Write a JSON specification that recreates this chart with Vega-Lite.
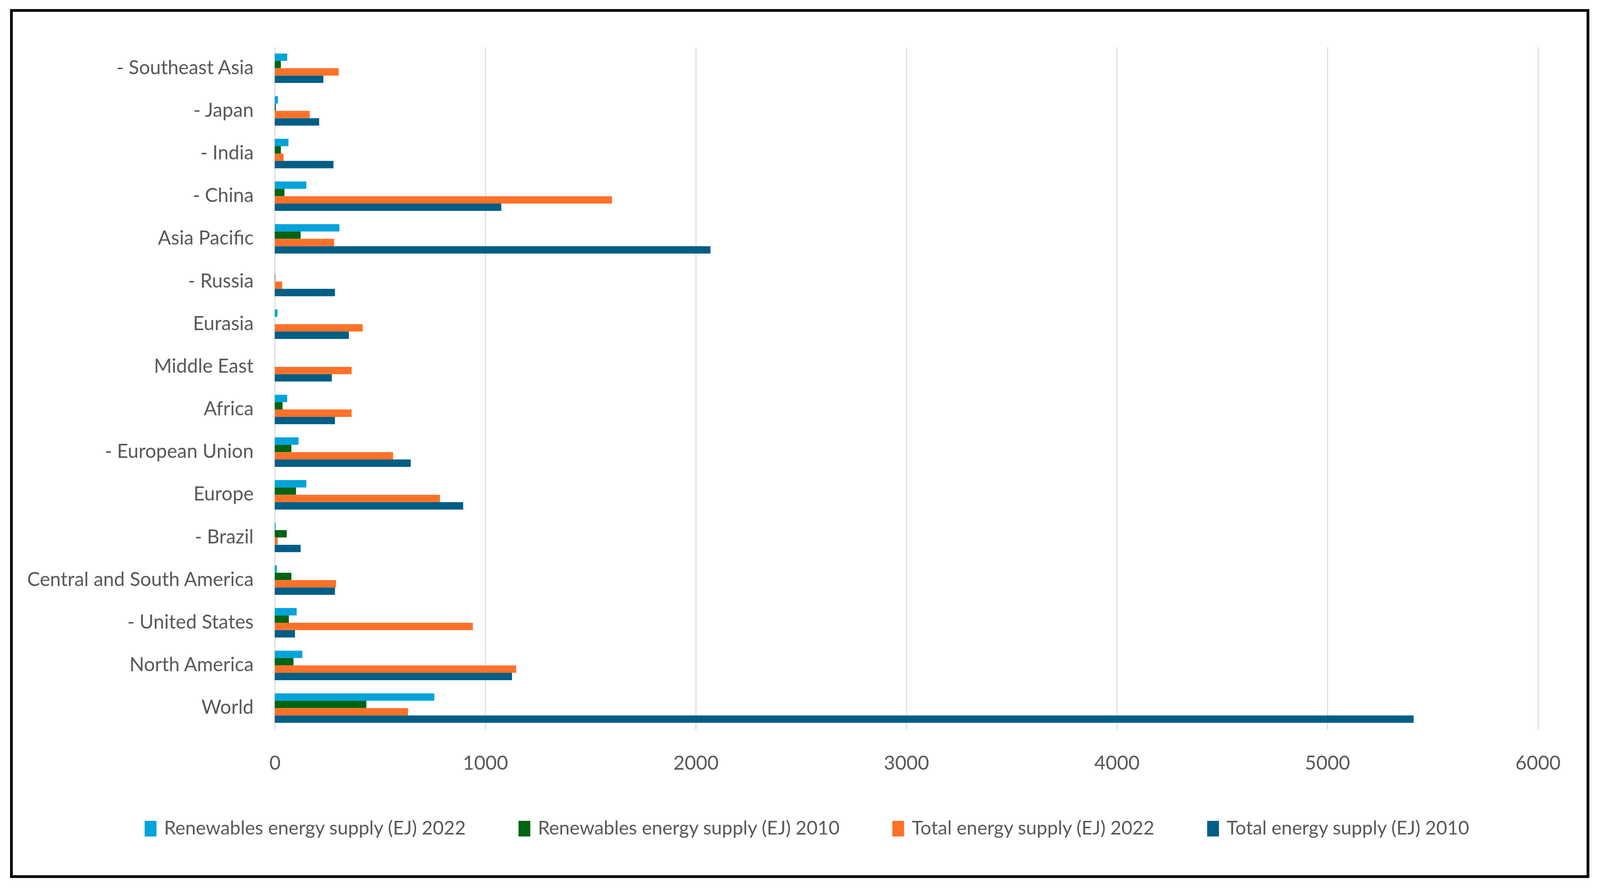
{
  "$schema": "https://vega.github.io/schema/vega-lite/v6.json",
  "usermeta": {"embedOptions": {"actions": false}},
  "width": 4036,
  "height": 2217,
  "autosize": {"type": "none"},
  "padding": {"left": 29.2, "top": 26.7, "right": 38, "bottom": 34},
  "background": "white",
  "config": {
    "view": {"stroke": "#000000", "strokeWidth": 7},
    "font": "Lato"
  },
  "data": {
    "values": [
      {"region": "- Southeast Asia", "series": "Renewables energy supply (EJ) 2022", "value": 59},
      {"region": "- Southeast Asia", "series": "Renewables energy supply (EJ) 2010", "value": 29},
      {"region": "- Southeast Asia", "series": "Total energy supply (EJ) 2022", "value": 304},
      {"region": "- Southeast Asia", "series": "Total energy supply (EJ) 2010", "value": 231},
      {"region": "- Japan", "series": "Renewables energy supply (EJ) 2022", "value": 15},
      {"region": "- Japan", "series": "Renewables energy supply (EJ) 2010", "value": 5},
      {"region": "- Japan", "series": "Total energy supply (EJ) 2022", "value": 166},
      {"region": "- Japan", "series": "Total energy supply (EJ) 2010", "value": 211},
      {"region": "- India", "series": "Renewables energy supply (EJ) 2022", "value": 65},
      {"region": "- India", "series": "Renewables energy supply (EJ) 2010", "value": 29},
      {"region": "- India", "series": "Total energy supply (EJ) 2022", "value": 42},
      {"region": "- India", "series": "Total energy supply (EJ) 2010", "value": 279},
      {"region": "- China", "series": "Renewables energy supply (EJ) 2022", "value": 150},
      {"region": "- China", "series": "Renewables energy supply (EJ) 2010", "value": 46},
      {"region": "- China", "series": "Total energy supply (EJ) 2022", "value": 1602},
      {"region": "- China", "series": "Total energy supply (EJ) 2010", "value": 1076},
      {"region": "Asia Pacific", "series": "Renewables energy supply (EJ) 2022", "value": 307},
      {"region": "Asia Pacific", "series": "Renewables energy supply (EJ) 2010", "value": 123},
      {"region": "Asia Pacific", "series": "Total energy supply (EJ) 2022", "value": 282},
      {"region": "Asia Pacific", "series": "Total energy supply (EJ) 2010", "value": 2070},
      {"region": "- Russia", "series": "Renewables energy supply (EJ) 2022", "value": 0},
      {"region": "- Russia", "series": "Renewables energy supply (EJ) 2010", "value": 2},
      {"region": "- Russia", "series": "Total energy supply (EJ) 2022", "value": 35},
      {"region": "- Russia", "series": "Total energy supply (EJ) 2010", "value": 286},
      {"region": "Eurasia", "series": "Renewables energy supply (EJ) 2022", "value": 13},
      {"region": "Eurasia", "series": "Renewables energy supply (EJ) 2010", "value": 0},
      {"region": "Eurasia", "series": "Total energy supply (EJ) 2022", "value": 418},
      {"region": "Eurasia", "series": "Total energy supply (EJ) 2010", "value": 352},
      {"region": "Middle East", "series": "Renewables energy supply (EJ) 2022", "value": 0},
      {"region": "Middle East", "series": "Renewables energy supply (EJ) 2010", "value": 0},
      {"region": "Middle East", "series": "Total energy supply (EJ) 2022", "value": 365},
      {"region": "Middle East", "series": "Total energy supply (EJ) 2010", "value": 271},
      {"region": "Africa", "series": "Renewables energy supply (EJ) 2022", "value": 59},
      {"region": "Africa", "series": "Renewables energy supply (EJ) 2010", "value": 37},
      {"region": "Africa", "series": "Total energy supply (EJ) 2022", "value": 365},
      {"region": "Africa", "series": "Total energy supply (EJ) 2010", "value": 286},
      {"region": "- European Union", "series": "Renewables energy supply (EJ) 2022", "value": 113},
      {"region": "- European Union", "series": "Renewables energy supply (EJ) 2010", "value": 79},
      {"region": "- European Union", "series": "Total energy supply (EJ) 2022", "value": 562},
      {"region": "- European Union", "series": "Total energy supply (EJ) 2010", "value": 646},
      {"region": "Europe", "series": "Renewables energy supply (EJ) 2022", "value": 150},
      {"region": "Europe", "series": "Renewables energy supply (EJ) 2010", "value": 101},
      {"region": "Europe", "series": "Total energy supply (EJ) 2022", "value": 785},
      {"region": "Europe", "series": "Total energy supply (EJ) 2010", "value": 895},
      {"region": "- Brazil", "series": "Renewables energy supply (EJ) 2022", "value": 4},
      {"region": "- Brazil", "series": "Renewables energy supply (EJ) 2010", "value": 57},
      {"region": "- Brazil", "series": "Total energy supply (EJ) 2022", "value": 14},
      {"region": "- Brazil", "series": "Total energy supply (EJ) 2010", "value": 123},
      {"region": "Central and South America", "series": "Renewables energy supply (EJ) 2022", "value": 10},
      {"region": "Central and South America", "series": "Renewables energy supply (EJ) 2010", "value": 79},
      {"region": "Central and South America", "series": "Total energy supply (EJ) 2022", "value": 291},
      {"region": "Central and South America", "series": "Total energy supply (EJ) 2010", "value": 286},
      {"region": "- United States", "series": "Renewables energy supply (EJ) 2022", "value": 104},
      {"region": "- United States", "series": "Renewables energy supply (EJ) 2010", "value": 67},
      {"region": "- United States", "series": "Total energy supply (EJ) 2022", "value": 941},
      {"region": "- United States", "series": "Total energy supply (EJ) 2010", "value": 96},
      {"region": "North America", "series": "Renewables energy supply (EJ) 2022", "value": 131},
      {"region": "North America", "series": "Renewables energy supply (EJ) 2010", "value": 89},
      {"region": "North America", "series": "Total energy supply (EJ) 2022", "value": 1147},
      {"region": "North America", "series": "Total energy supply (EJ) 2010", "value": 1127},
      {"region": "World", "series": "Renewables energy supply (EJ) 2022", "value": 758},
      {"region": "World", "series": "Renewables energy supply (EJ) 2010", "value": 435},
      {"region": "World", "series": "Total energy supply (EJ) 2022", "value": 633},
      {"region": "World", "series": "Total energy supply (EJ) 2010", "value": 5410}
    ]
  },
  "encoding": {
    "y": {
      "field": "region",
      "type": "nominal",
      "sort": ["- Southeast Asia", "- Japan", "- India", "- China", "Asia Pacific", "- Russia", "Eurasia", "Middle East", "Africa", "- European Union", "Europe", "- Brazil", "Central and South America", "- United States", "North America", "World"],
      "scale": {"range": [93.3, 1840.3], "paddingInner": 0.31, "paddingOuter": 0.155},
      "axis": {
        "title": null,
        "domain": false,
        "ticks": false,
        "grid": false,
        "offset": -674.2,
        "labelPadding": 54.6,
        "labelFontSize": 49.5,
        "labelColor": "#595959",
        "labelLimit": 0
      }
    },
    "yOffset": {
      "field": "series",
      "type": "nominal",
      "sort": ["Renewables energy supply (EJ) 2022", "Renewables energy supply (EJ) 2010", "Total energy supply (EJ) 2022", "Total energy supply (EJ) 2010"],
      "scale": {"paddingInner": 0, "paddingOuter": 0}
    },
    "color": {
      "field": "series",
      "type": "nominal",
      "scale": {
        "domain": ["Renewables energy supply (EJ) 2022", "Renewables energy supply (EJ) 2010", "Total energy supply (EJ) 2022", "Total energy supply (EJ) 2010"],
        "range": ["#00A3DA", "#006414", "#FF7128", "#005E85"]
      },
      "legend": {
        "orient": "none",
        "legendX": 332,
        "legendY": 2070,
        "direction": "horizontal",
        "columns": 4,
        "title": null,
        "padding": 0,
        "labelFontSize": 48.5,
        "labelColor": "#595959",
        "labelLimit": 0,
        "symbolType": "M-0.755,-1H0.755V1H-0.755Z",
        "symbolSize": 1600,
        "symbolStrokeWidth": 0,
        "symbolOpacity": 1,
        "labelOffset": 10.2,
        "columnPadding": 123
      }
    }
  },
  "layer": [
    {
      "mark": {"type": "bar", "opacity": 0},
      "encoding": {
        "x": {
          "field": "value",
          "type": "quantitative",
          "scale": {"domain": [0, 6000], "range": [674.2, 3907.6], "nice": false, "zero": true},
          "axis": {
            "orient": "top",
            "title": null,
            "values": [0, 1000, 2000, 3000, 4000, 5000, 6000],
            "domain": false,
            "ticks": false,
            "labels": false,
            "grid": true,
            "gridColor": "#D9D9D9",
            "gridWidth": 2.5
          }
        }
      }
    },
    {
      "mark": {"type": "bar"},
      "encoding": {
        "x": {
          "field": "value",
          "type": "quantitative",
          "scale": {"domain": [0, 6000], "range": [674.2, 3907.6], "nice": false, "zero": true},
          "axis": {
            "orient": "bottom",
            "title": null,
            "values": [0, 1000, 2000, 3000, 4000, 5000, 6000],
            "format": "d",
            "domain": false,
            "ticks": false,
            "grid": false,
            "offset": -376.7,
            "labelBaseline": "middle",
            "labelPadding": 88,
            "labelFontSize": 50,
            "labelColor": "#595959",
            "labelFlush": false
          }
        }
      }
    }
  ],
  "resolve": {"axis": {"x": "independent"}}
}
